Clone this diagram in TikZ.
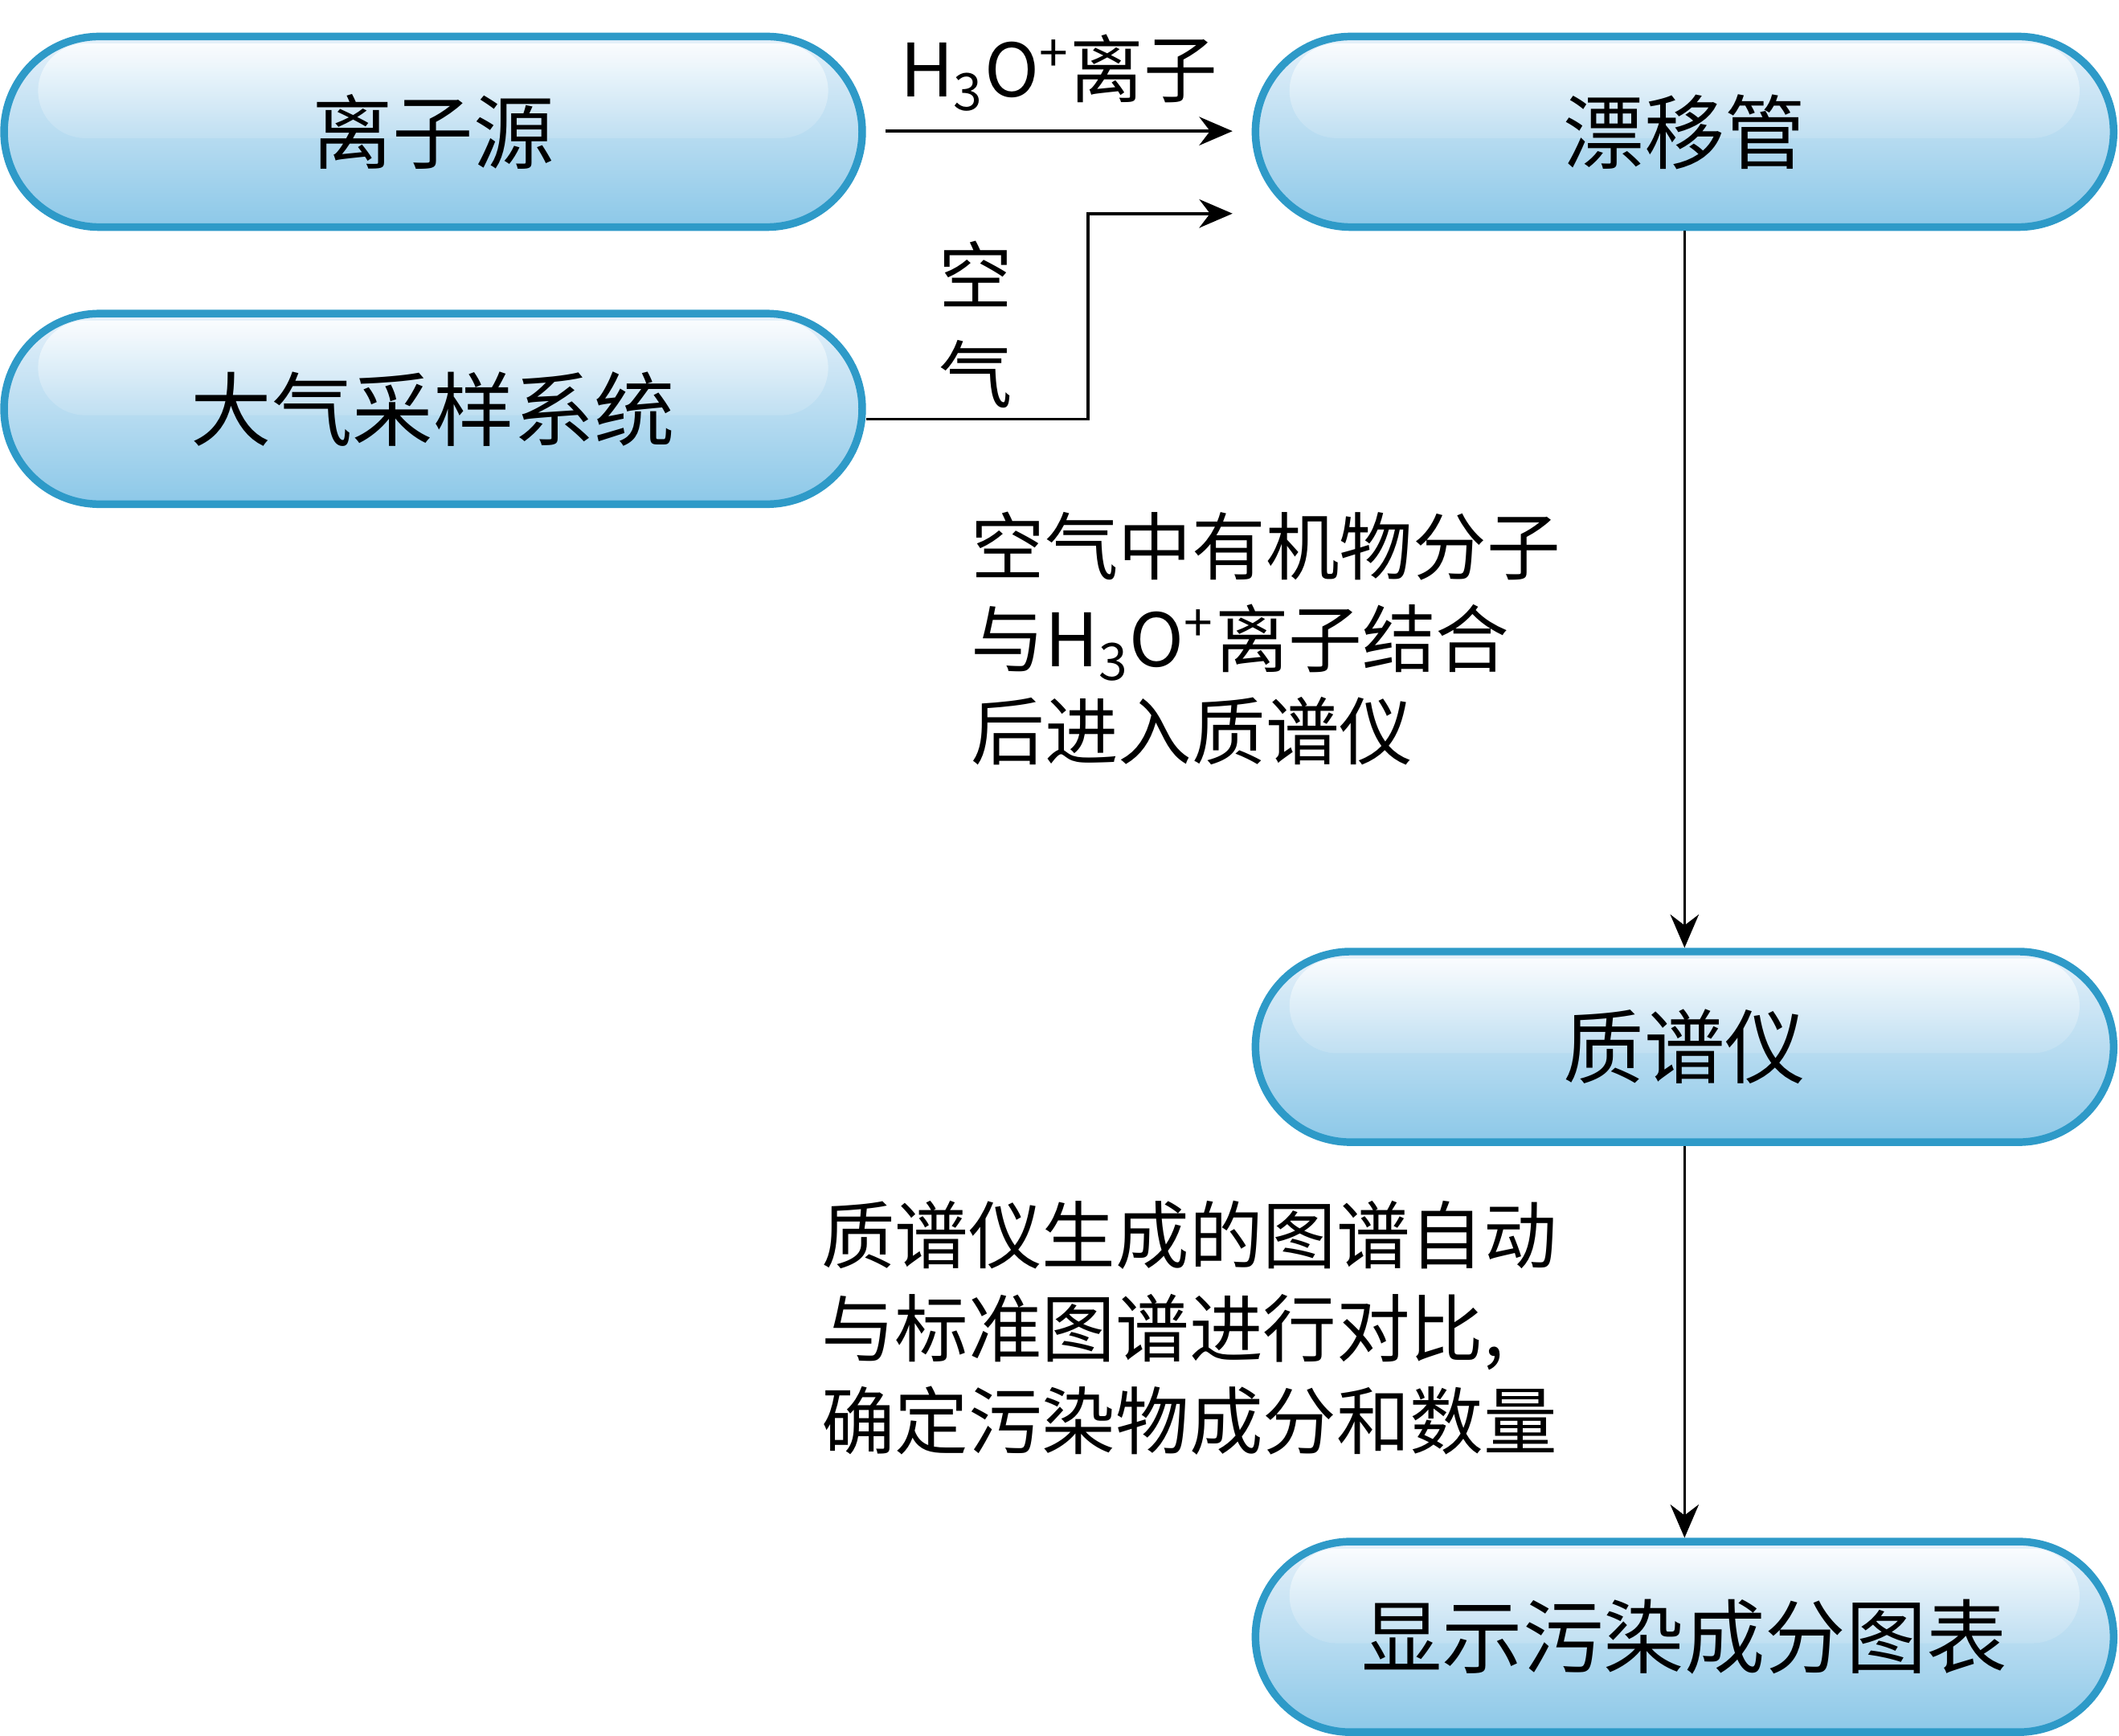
\documentclass[tikz,border=0pt]{standalone}
\usepackage{fontspec}
\setmainfont{Noto Sans CJK SC}
\usetikzlibrary{positioning, calc, arrows.meta}
\definecolor{boxline}{HTML}{2E9AC8}
\definecolor{boxtop}{HTML}{E6F1FA}
\definecolor{boxbot}{HTML}{8CC8E8}
\tikzset{
  pill/.style={draw=boxline, line width=1.6pt, rounded corners=0.705cm,
    minimum width=6.35cm, minimum height=1.41cm, top color=boxtop, bottom color=boxbot,
    font=\fontsize{17}{20}\selectfont},
  flow/.style={-{Stealth[length=7pt,width=6pt]}, line width=0.6pt},
  note/.style={font=\fontsize{15.5}{19.5}\selectfont, align=left, anchor=north west, inner sep=0pt}
}
\newcommand{\hilite}[1]{%
  \shade[top color=white, bottom color=boxtop!60!boxbot, opacity=0.85, rounded corners=0.35cm]
    ($(#1.north west)+(0.28,-0.08)$) rectangle ($(#1.north east)+(-0.28,-0.78)$);
  \node[font=\fontsize{17}{20}\selectfont] at (#1) {\csname lbl#1\endcsname};}
\begin{document}
\begin{tikzpicture}
\useasboundingbox (0,0) rectangle (15.68,-12.84);
\def\lblsrc{离子源}
\def\lblsam{大气采样系统}
\def\lbldrift{漂移管}
\def\lblms{质谱仪}
\def\lblshow{显示污染成分图表}
\node[pill] (src) at (3.205,-0.975) {};
\node[pill] (sam) at (3.205,-3.025) {};
\node[pill] (drift) at (12.465,-0.975) {};
\node[pill] (ms) at (12.465,-7.745) {};
\node[pill] (show) at (12.465,-12.11) {};
\hilite{src} \hilite{sam} \hilite{drift} \hilite{ms} \hilite{show}
% connectors
\coordinate (a1) at (6.55,-0.97);
\coordinate (a2) at (9.12,-0.97);
\coordinate (b1) at (8.05,-3.10);
\coordinate (b2) at (9.12,-1.58);
\draw[flow] (a1) -- node[above=0.02cm, font=\fontsize{15.5}{18}\selectfont]
  {H\textsubscript{3}O\textsuperscript{+}离子} (a2);
\draw[flow] (sam.east |- b1) -- (b1) |- (b2);
\node[font=\fontsize{15.5}{18}\selectfont, align=center] (air) at (7.22,-2.4) {空\\[0.1cm]气};
\draw[flow] (drift.south) -- (ms.north);
\draw[flow] (ms.south) -- (show.north);
\node[note] (n1) at (7.18,-3.78) {空气中有机物分子\\与H\textsubscript{3}O\textsuperscript{+}离子结合\\后进入质谱仪};
\node[note] (n2) at (6.07,-8.88) {质谱仪生成的图谱自动\\与标准图谱进行对比,\\确定污染物成分和数量};
\end{tikzpicture}
\end{document}
